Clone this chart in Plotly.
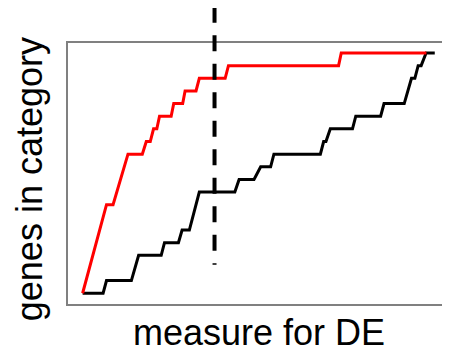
import plotly.graph_objects as go

# Cumulative number of genes in category vs. rank of DE measure
red_x = [14.7, 38.7, 45.3, 60.3, 74.7, 78.7, 82.7, 86, 89.3, 92, 103.7, 106.3,
         115.3, 117.7, 128.7, 132, 158, 161.3, 272, 274.7, 360.3]
red_y = [0, 7, 7, 11, 11, 12, 12, 13, 13, 14, 14, 15,
         15, 16, 16, 17, 17, 18, 18, 19, 19]

black_x = [14.7, 35.3, 38.7, 63.7, 71, 93.7, 97, 111, 114.7, 122, 132, 167.7,
           172, 187, 193.7, 203.7, 207, 253.7, 257, 259.3, 263.7, 286, 289.3,
           314.3, 317.7, 338, 345.3, 348.7, 352, 355, 360, 368.7]
black_y = [0, 0, 1, 1, 3, 3, 4, 4, 5, 5, 8, 8,
           9, 9, 10, 10, 11, 11, 12, 12, 13, 13, 14,
           14, 15, 15, 17, 17, 18, 18, 19, 19]

de_cutoff = 147.3
x_range = [0, 381]
y_range = [-0.85, 19.79]

x_title = "measure for DE"
y_title = "genes in category"

FONT = "Liberation Sans, Arial, sans-serif"

fig = go.Figure()
fig.add_trace(go.Scatter(x=black_x, y=black_y, mode="lines",
                         line=dict(color="black", width=3), showlegend=False))
fig.add_trace(go.Scatter(x=red_x, y=red_y, mode="lines",
                         line=dict(color="#ff0000", width=3), showlegend=False))

fig.add_shape(type="line", xref="x", yref="paper",
              x0=de_cutoff, x1=de_cutoff, y0=1.139, y1=0.15,
              line=dict(color="black", width=4, dash="16px,12.5px"))

fig.add_annotation(text=x_title, xref="paper", yref="paper", x=0.504, y=-0.111,
                   xanchor="center", yanchor="middle", showarrow=False,
                   font=dict(family=FONT, size=36, color="black"))
fig.add_annotation(text=y_title, xref="paper", yref="paper", x=-0.0997, y=0.479,
                   xanchor="center", yanchor="middle", showarrow=False, textangle=-90,
                   font=dict(family=FONT, size=36, color="black"))

axis_common = dict(showgrid=False, zeroline=False, showticklabels=False, ticks="",
                   showline=True, mirror=True, linecolor="#808080", linewidth=1.5)
fig.update_xaxes(range=x_range, **axis_common)
fig.update_yaxes(range=y_range, **axis_common)

# the page body adds an 8px offset, so the figure is 8px smaller on left/top
fig.update_layout(width=442, height=340,
                  margin=dict(l=60, r=1, t=35, b=44),
                  paper_bgcolor="white", plot_bgcolor="white",
                  font=dict(family=FONT))

fig.write_html("out.html")
